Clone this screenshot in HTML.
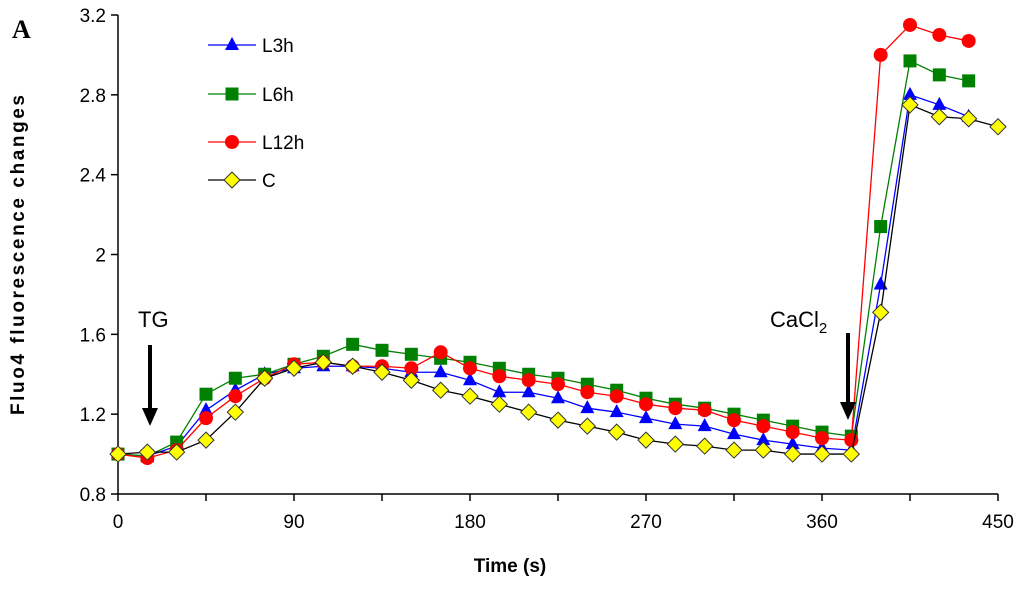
<!DOCTYPE html>
<html><head><meta charset="utf-8"><style>
body{margin:0;background:#fff;}
svg text{font-family:"Liberation Sans",Arial,sans-serif;}
</style></head><body>
<svg id="chart" width="1024" height="586" viewBox="0 0 1024 586">
<text x="12" y="38" font-weight="bold" font-size="26" style="font-family:'Liberation Serif',serif">A</text>
<g id="axes"></g>
<g id="series"></g>
<g id="legend"></g>
<text x="138" y="327" font-size="22">TG</text>
<line x1="150" y1="345" x2="150" y2="410" stroke="#000" stroke-width="4"/>
<polygon points="142,408 158,408 150,426" fill="#000"/>
<text x="770" y="327" font-size="22">CaCl<tspan font-size="15" dy="6">2</tspan></text>
<line x1="848" y1="333" x2="848" y2="404" stroke="#000" stroke-width="4"/>
<polygon points="840,402 856,402 848,420" fill="#000"/>
<text x="510" y="572" font-size="19" font-weight="bold" text-anchor="middle">Time (s)</text>
<text transform="translate(24,255) rotate(-90)" font-size="19" font-weight="bold" text-anchor="middle" textLength="320" lengthAdjust="spacing">Fluo4  fluorescence  changes</text>
</svg>
<script>
const xTicks=[0,90,180,270,360,450];
const yTicks=[0.8,1.2,1.6,2,2.4,2.8,3.2];
const yTickLabels=["0.8","1.2","1.6","2","2.4","2.8","3.2"];
const times=[0,15,30,45,60,75,90,105,120,135,150,165,180,195,210,225,240,255,270,285,300,315,330,345,360,375,390,405,420,435,450];
const seriesNames=["L3h","L6h","L12h","C"];
const l3h=[1.0,0.99,1.04,1.22,1.32,1.40,1.43,1.44,1.44,1.43,1.41,1.41,1.37,1.31,1.31,1.28,1.23,1.21,1.18,1.15,1.14,1.10,1.07,1.05,1.03,1.02,1.85,2.80,2.75,2.69];
const l6h=[1.0,0.99,1.06,1.30,1.38,1.40,1.45,1.49,1.55,1.52,1.50,1.48,1.46,1.43,1.40,1.38,1.35,1.32,1.28,1.25,1.23,1.20,1.17,1.14,1.11,1.09,2.14,2.97,2.90,2.87];
const l12h=[1.0,0.98,1.02,1.18,1.29,1.38,1.45,1.46,1.44,1.44,1.43,1.51,1.43,1.39,1.37,1.35,1.31,1.29,1.25,1.23,1.22,1.17,1.14,1.11,1.08,1.07,3.00,3.15,3.10,3.07];
const cCtrl=[1.0,1.01,1.01,1.07,1.21,1.38,1.43,1.46,1.44,1.41,1.37,1.32,1.29,1.25,1.21,1.17,1.14,1.11,1.07,1.05,1.04,1.02,1.02,1.0,1.0,1.0,1.71,2.75,2.69,2.68,2.64];

const NS="http://www.w3.org/2000/svg";
const X0=118,X1=998,Y0=494,Y1=15;
const xs=t=>X0+(t-0)/(450-0)*(X1-X0);
const ys=v=>Y0-(v-0.8)/(3.2-0.8)*(Y0-Y1);
function mk(tag,attrs,parent){const e=document.createElementNS(NS,tag);for(const k in attrs)e.setAttribute(k,attrs[k]);parent.appendChild(e);return e;}
const axes=document.getElementById('axes');
let e=mk('line',{x1:X0,y1:Y1,x2:X0,y2:Y0,stroke:'#000','stroke-width':1.5},axes);


e=mk('line',{x1:X0,y1:Y0,x2:X1,y2:Y0,stroke:'#000','stroke-width':1.5},axes);


yTicks.forEach((v,i)=>{
  const y=ys(v);
  mk('line',{x1:X0-7,y1:y,x2:X0,y2:y,stroke:'#000','stroke-width':1.5},axes);
  const t=mk('text',{x:X0-12,y:y+7,'font-size':19,'text-anchor':'end'},axes);
  t.textContent=yTickLabels[i];
  
  
});
for(let t=0;t<=450;t+=45){mk('line',{x1:xs(t),y1:Y0,x2:xs(t),y2:Y0+7,stroke:'#000','stroke-width':1.5},axes);}
xTicks.forEach(v=>{
  const t=mk('text',{x:xs(v),y:528,'font-size':19,'text-anchor':'middle'},axes);
  t.textContent=String(v);
  
  
});
const styles=[{c:'#0000ff',m:'tri',f:'#0000ff'},{c:'#008000',m:'sq',f:'#008000'},{c:'#ff0000',m:'circ',f:'#ff0000'},{c:'#000',m:'dia',f:'#ffff00'}];
function marker(g,m,x,y,f){
  if(m==='tri')return mk('polygon',{points:`${x},${y-8} ${x-7},${y+5} ${x+7},${y+5}`,fill:f},g);
  if(m==='sq')return mk('rect',{x:x-6.5,y:y-6.5,width:13,height:13,fill:f},g);
  if(m==='circ')return mk('circle',{cx:x,cy:y,r:7,fill:f},g);
  return mk('polygon',{points:`${x},${y-8} ${x+8},${y} ${x},${y+8} ${x-8},${y}`,fill:f,stroke:'#333','stroke-width':1},g);
}
const sg=document.getElementById('series');
[l3h,l6h,l12h,cCtrl].forEach((d,si)=>{
  const st=styles[si];
  const g=mk('g',{},sg);
  
  
  const pts=d.map((v,i)=>xs(times[i])+','+ys(v)).join(' ');
  const pl=mk('polyline',{points:pts,fill:'none',stroke:st.c,'stroke-width':1.3},g);
  
  
  d.forEach((v,i)=>{const mm=marker(g,st.m,xs(times[i]),ys(v),st.f);
    
    });
});
const lg=document.getElementById('legend');
const legY=[45,94,142,180];
seriesNames.forEach((n,i)=>{
  const st=styles[i];
  const g=mk('g',{},lg);
  
  
  mk('line',{x1:208,y1:legY[i],x2:256,y2:legY[i],stroke:st.c,'stroke-width':1.3},g);
  marker(g,st.m,232,legY[i],st.f);
  const t=mk('text',{x:262,y:legY[i]+7,'font-size':19},g);
  t.textContent=n;
});
</script>
</body></html>
